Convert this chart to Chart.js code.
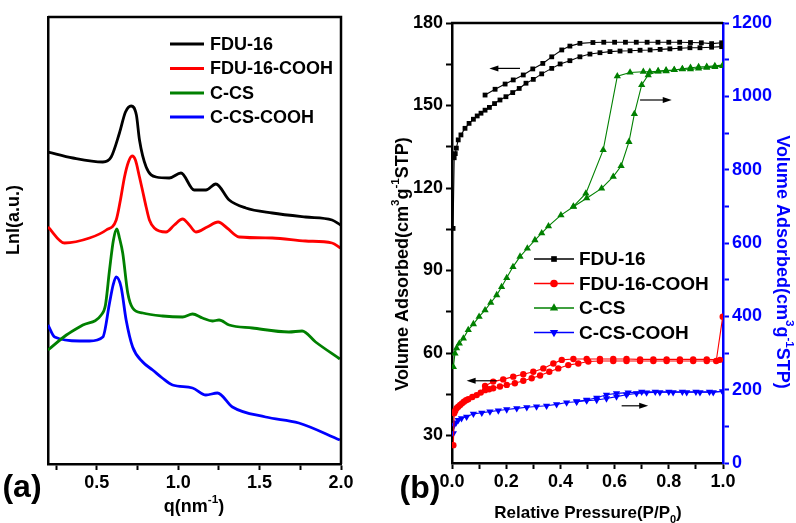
<!DOCTYPE html>
<html>
<head>
<meta charset="utf-8">
<script src="https://cdn.jsdelivr.net/npm/chart.js@4.4.1/dist/chart.umd.min.js"></script>
<style>
  body { margin: 0; background: #fff; }
  #panelA { position: absolute; left: 0; top: 0; }
  #panelB { position: absolute; left: 388px; top: 0; }
</style>
</head>
<body>
<canvas id="panelA" width="388" height="523"></canvas>
<canvas id="panelB" width="408" height="523"></canvas>
<script>
// (a) SAXS curves, q in nm^-1, intensity in arbitrary (offset) units
const qFDU16 = [0.20, 0.353, 0.537, 0.588, 0.639, 0.676, 0.711, 0.743, 0.762, 0.803, 0.864, 0.945, 1.017, 1.098, 1.17, 1.231, 1.313, 1.415, 1.578, 1.782, 1.945, 1.997];
const iFDU16 = [312, 306, 302, 307, 331, 352, 358, 349, 324, 297, 287, 286, 291, 274, 274, 280, 264, 256, 251, 247, 244, 239];

const qFDU16COOH = [0.20, 0.302, 0.455, 0.558, 0.619, 0.645, 0.67, 0.694, 0.717, 0.737, 0.762, 0.78, 0.803, 0.823, 0.853, 0.925, 0.976, 1.027, 1.068, 1.109, 1.178, 1.245, 1.30, 1.374, 1.578, 1.782, 1.945, 1.997];
const iFDU16COOH = [237, 221, 226, 234, 244, 264, 287, 302, 308, 304, 287, 274, 257, 244, 236, 232, 239, 245, 239, 232, 237, 242, 236, 227, 226, 223, 221, 216];

const qCCS = [0.20, 0.313, 0.414, 0.527, 0.553, 0.578, 0.602, 0.623, 0.639, 0.659, 0.69, 0.72, 0.782, 0.904, 1.027, 1.088, 1.149, 1.21, 1.251, 1.313, 1.455, 1.68, 1.761, 1.844, 1.993];
const iCCS = [114, 129, 139, 149, 159, 194, 224, 235, 226, 211, 171, 156, 151, 148, 147, 150, 146, 143, 144, 139, 136, 132, 133, 122, 105];

const qCCSCOOH = [0.20, 0.241, 0.394, 0.455, 0.537, 0.578, 0.60, 0.619, 0.649, 0.68, 0.72, 0.782, 0.843, 0.902, 0.965, 1.088, 1.17, 1.241, 1.333, 1.537, 1.741, 1.993];
const iCCSCOOH = [139, 127, 123, 123, 127, 161, 179, 187, 177, 144, 117, 102, 94, 86, 79, 76, 69, 71, 57, 47, 41, 24];

const qTicks = [0.25, 0.5, 0.75, 1.0, 1.25, 1.5, 1.75, 2.0];

// (b) N2 isotherms, P/P0 vs volume adsorbed
const pFDU16Ads = [0.004, 0.008, 0.012, 0.016, 0.023, 0.033, 0.048, 0.063, 0.079, 0.093, 0.107, 0.122, 0.138, 0.157, 0.177, 0.199, 0.224, 0.248, 0.273, 0.300, 0.331, 0.368, 0.399, 0.435, 0.472, 0.509, 0.546, 0.583, 0.620, 0.657, 0.694, 0.731, 0.768, 0.804, 0.841, 0.878, 0.915, 0.958, 0.995];
const vFDU16Ads = [105.3, 131, 132.5, 134.5, 137.5, 139.3, 141.7, 143.5, 145, 146.2, 147.2, 148.3, 149.3, 150.7, 152.0, 153.2, 154.7, 156.2, 158.1, 159.5, 161.5, 163.5, 165.1, 166.3, 167.7, 168.7, 169.2, 169.6, 169.8, 169.9, 170.1, 170.2, 170.4, 170.6, 170.8, 171.0, 171.0, 171.2, 171.4];
const pFDU16Des = [0.995, 0.958, 0.92, 0.88, 0.84, 0.80, 0.76, 0.72, 0.68, 0.64, 0.60, 0.56, 0.52, 0.472, 0.435, 0.405, 0.368, 0.335, 0.298, 0.263, 0.226, 0.196, 0.159, 0.122];
const vFDU16Des = [172.8, 172.5, 172.8, 172.9, 173, 173, 173, 173, 173, 173, 173, 173, 172.9, 172.6, 171.6, 170.2, 167.7, 165.3, 163.3, 161.1, 159.3, 157.8, 155.9, 153.8];

const pCOOHAds = [0.005, 0.008, 0.012, 0.017, 0.023, 0.03, 0.037, 0.044, 0.052, 0.06, 0.075, 0.091, 0.106, 0.122, 0.137, 0.152, 0.177, 0.202, 0.232, 0.263, 0.294, 0.325, 0.359, 0.392, 0.429, 0.466, 0.503, 0.546, 0.595, 0.644, 0.694, 0.743, 0.792, 0.841, 0.89, 0.94, 0.975, 0.999];
const vCOOHAds = [26.5, 38.1, 39, 39.9, 40.5, 41.1, 41.7, 42.3, 42.8, 43.2, 44, 44.7, 45.6, 46.5, 46.8, 47.2, 47.8, 48.4, 49, 49.9, 50.8, 51.8, 53.2, 54.4, 55.6, 56.2, 56.9, 57.1, 57.1, 57.1, 57.1, 57.1, 57.1, 57.1, 57.1, 57.1, 57.1, 73.2];
const pCOOHDes = [0.989, 0.94, 0.89, 0.841, 0.792, 0.743, 0.694, 0.644, 0.595, 0.546, 0.497, 0.448, 0.405, 0.374, 0.337, 0.300, 0.263, 0.226, 0.189, 0.152, 0.122];
const vCOOHDes = [57.5, 57.7, 57.7, 57.7, 57.7, 57.7, 57.7, 57.8, 57.8, 57.8, 57.8, 57.8, 57.5, 56.2, 54.4, 53.2, 52.3, 51.4, 50.4, 49.6, 48.0];

const pCCSAds = [0.005, 0.011, 0.017, 0.027, 0.042, 0.06, 0.079, 0.1, 0.122, 0.143, 0.165, 0.183, 0.202, 0.225, 0.251, 0.278, 0.306, 0.331, 0.356, 0.402, 0.448, 0.497, 0.552, 0.595, 0.624, 0.653, 0.673, 0.70, 0.724, 0.761, 0.79, 0.82, 0.85, 0.88, 0.91, 0.94, 0.97, 0.999];
const vCCSAds = [262, 299, 313, 326, 340, 363, 379, 399, 417, 437, 458, 480, 505, 535, 563, 585, 608, 627, 646, 676, 699, 722, 749, 781, 810, 876, 952, 1031, 1058, 1069, 1071, 1072, 1074, 1074, 1076, 1078, 1080, 1083];
const pCCSDes = [0.999, 0.97, 0.94, 0.91, 0.88, 0.85, 0.82, 0.79, 0.76, 0.73, 0.706, 0.657, 0.61, 0.558, 0.494, 0.448];
const vCCSDes = [1085, 1083, 1081, 1080, 1078, 1075, 1072, 1069, 1068, 1067, 1067, 1065, 1055, 854, 735, 700];

const pCCSCOOHAds = [0.005, 0.008, 0.015, 0.023, 0.035, 0.054, 0.079, 0.11, 0.14, 0.171, 0.202, 0.239, 0.276, 0.312, 0.349, 0.386, 0.423, 0.46, 0.497, 0.534, 0.57, 0.607, 0.644, 0.681, 0.718, 0.767, 0.816, 0.866, 0.915, 0.964, 0.999];
const vCCSCOOHAds = [81, 104, 110, 117, 122, 126, 134, 137, 140, 143, 146, 149, 152, 154, 156, 160, 165, 167, 170, 172, 176, 181, 186, 190, 192, 193, 193, 193, 193, 193, 195];
const pCCSCOOHDes = [0.999, 0.95, 0.9, 0.85, 0.8, 0.75, 0.7, 0.65, 0.607, 0.57, 0.534, 0.497, 0.46];
const vCCSCOOHDes = [195, 194, 194, 194, 194, 194, 194, 192, 190, 186, 178, 172, 168];

const pTicks = [0, 0.1, 0.2, 0.3, 0.4, 0.5, 0.6, 0.7, 0.8, 0.9, 1.0];
const leftTicks = [30, 45, 60, 75, 90, 105, 120, 135, 150, 165, 180];
const rightTicks = [0, 100, 200, 300, 400, 500, 600, 700, 800, 900, 1000, 1100, 1200];

const names = ['FDU-16', 'FDU-16-COOH', 'C-CS', 'C-CS-COOH'];
const colors = ['#000000', '#ff0000', '#008000', '#0000ff'];

const FONT = 'Arial, "Liberation Sans", Helvetica, sans-serif';

function pts(xs, ys) {
  return xs.map((x, i) => ({ x: x, y: ys[i] }));
}

// text with super/subscripts: parts = [[text, shift]], shift 1 = sup, -1 = sub
function richText(ctx, parts, x, y, size, color, rot) {
  ctx.save();
  ctx.translate(x, y);
  ctx.rotate(rot || 0);
  ctx.fillStyle = color;
  ctx.textBaseline = 'middle';
  ctx.textAlign = 'left';
  let w = 0;
  parts.forEach(p => {
    ctx.font = 'bold ' + (p[1] ? size * 0.65 : size) + 'px ' + FONT;
    w += ctx.measureText(p[0]).width;
  });
  let cx = -w / 2;
  parts.forEach(p => {
    const s = p[1] ? size * 0.65 : size;
    ctx.font = 'bold ' + s + 'px ' + FONT;
    ctx.fillText(p[0], cx, -p[1] * size * 0.38);
    cx += ctx.measureText(p[0]).width;
  });
  ctx.restore();
}

function plainText(ctx, text, x, y, size, color, align) {
  ctx.save();
  ctx.font = 'bold ' + size + 'px ' + FONT;
  ctx.fillStyle = color;
  ctx.textAlign = align || 'left';
  ctx.textBaseline = 'middle';
  ctx.fillText(text, x, y);
  ctx.restore();
}

function tickFont() {
  return { family: FONT, size: 18, weight: 'bold' };
}

// ---------- panel (a) ----------
const panelAPlugin = {
  id: 'panelA',
  afterDraw(chart) {
    const { ctx, chartArea: a } = chart;
    ctx.save();
    ctx.strokeStyle = '#000';
    ctx.lineWidth = 2.5;
    ctx.beginPath();
    ctx.moveTo(a.left, a.top);
    ctx.lineTo(a.right, a.top);
    ctx.lineTo(a.right, a.bottom);
    ctx.stroke();
    // legend
    const rows = [44, 68.5, 93, 117];
    names.forEach((n, i) => {
      ctx.strokeStyle = colors[i];
      ctx.lineWidth = 3;
      ctx.beginPath();
      ctx.moveTo(170, rows[i]);
      ctx.lineTo(204, rows[i]);
      ctx.stroke();
      plainText(ctx, n, 210, rows[i] + 1, 18, '#000');
    });
    ctx.restore();
    richText(ctx, [['Lnl(a.u.)', 0]], 14, 220, 18, '#000', -Math.PI / 2);
    richText(ctx, [['q(nm', 0], ['-1', 1], [')', 0]], 194, 507, 18, '#000', 0);
    plainText(ctx, '(a)', 22, 488, 32, '#000', 'center');
  }
};

new Chart(document.getElementById('panelA'), {
  type: 'line',
  data: {
    datasets: [
      { label: names[0], data: pts(qFDU16, iFDU16), borderColor: colors[0] },
      { label: names[1], data: pts(qFDU16COOH, iFDU16COOH), borderColor: colors[1] },
      { label: names[2], data: pts(qCCS, iCCS), borderColor: colors[2] },
      { label: names[3], data: pts(qCCSCOOH, iCCSCOOH), borderColor: colors[3] }
    ]
  },
  options: {
    responsive: false,
    animation: false,
    layout: { padding: { left: 0, right: 47, top: 17, bottom: 0 } },
    elements: {
      point: { radius: 0 },
      line: { borderWidth: 2.8, cubicInterpolationMode: 'monotone', fill: false }
    },
    plugins: { legend: { display: false }, tooltip: { enabled: false } },
    scales: {
      x: {
        type: 'linear', min: 0.2, max: 2.0,
        afterBuildTicks: s => { s.ticks = qTicks.map(v => ({ value: v })); },
        afterFit: s => { s.height = 59; },
        ticks: {
          autoSkip: false, maxRotation: 0, padding: 2, color: '#000', font: tickFont(),
          callback: v => (Math.abs(v * 2 - Math.round(v * 2)) < 1e-6 ? v.toFixed(1) : '')
        },
        grid: { drawOnChartArea: false, color: '#000', tickLength: 6, tickWidth: 2 },
        border: { color: '#000', width: 2.5 }
      },
      y: {
        min: 0, max: 447,
        afterFit: s => { s.width = 48; },
        ticks: { display: false },
        grid: { display: false },
        border: { color: '#000', width: 2.5 }
      }
    }
  },
  plugins: [panelAPlugin]
});

// ---------- panel (b) ----------
const arrows = [
  { axis: 'y', from: 0.251, to: 0.138, y: 163.5 },
  { axis: 'y1', from: 0.694, to: 0.811, y: 990 },
  { axis: 'y', from: 0.165, to: 0.054, y: 49.9 },
  { axis: 'y1', from: 0.626, to: 0.724, y: 156 }
];
const markers = ['rect', 'circle', 'triangle', 'triangle'];
const markerRot = [0, 0, 0, 180];
const markerSize = [3.4, 3.2, 4.2, 4.2];

function iso(i, xs, ys, axis) {
  return {
    label: names[i], data: pts(xs, ys), yAxisID: axis,
    borderColor: colors[i], backgroundColor: colors[i],
    pointBackgroundColor: colors[i], pointBorderColor: colors[i], pointBorderWidth: 0,
    pointStyle: markers[i], pointRotation: markerRot[i], pointRadius: markerSize[i],
    borderWidth: 1.1, tension: 0, fill: false
  };
}

const panelBPlugin = {
  id: 'panelB',
  afterDraw(chart) {
    const { ctx, chartArea: a, scales } = chart;
    ctx.save();
    ctx.strokeStyle = '#000';
    ctx.lineWidth = 2.5;
    ctx.beginPath();
    ctx.moveTo(a.left - 1, a.top);
    ctx.lineTo(a.right, a.top);
    ctx.stroke();
    // arrows
    ctx.lineWidth = 1.2;
    arrows.forEach(ar => {
      const x0 = scales.x.getPixelForValue(ar.from);
      const x1 = scales.x.getPixelForValue(ar.to);
      const y = scales[ar.axis].getPixelForValue(ar.y);
      const d = Math.sign(x1 - x0);
      ctx.strokeStyle = '#000';
      ctx.fillStyle = '#000';
      ctx.beginPath();
      ctx.moveTo(x0, y);
      ctx.lineTo(x1 - d * 6, y);
      ctx.stroke();
      ctx.beginPath();
      ctx.moveTo(x1, y);
      ctx.lineTo(x1 - d * 9, y - 3);
      ctx.lineTo(x1 - d * 9, y + 3);
      ctx.closePath();
      ctx.fill();
    });
    // legend
    const rows = [259, 283.5, 308, 332.5];
    names.forEach((n, i) => {
      ctx.strokeStyle = colors[i];
      ctx.lineWidth = 1.5;
      ctx.beginPath();
      ctx.moveTo(146, rows[i]);
      ctx.lineTo(186, rows[i]);
      ctx.stroke();
      ctx.fillStyle = colors[i];
      Chart.helpers.drawPoint(ctx, {
        pointStyle: markers[i], rotation: markerRot[i], radius: markerSize[i] + 0.6, borderWidth: 0
      }, 166, rows[i]);
      plainText(ctx, n, 191, rows[i] + 1, 19, '#000');
    });
    ctx.restore();
    richText(ctx, [['Volume Adsorbed(cm', 0], ['3', 1], ['g', 0], ['-1', 1], ['STP)', 0]], 15, 264, 18, '#000', -Math.PI / 2);
    richText(ctx, [['Volume Adsorbed(cm', 0], ['3', 1], ['g', 0], ['-1', 1], ['STP)', 0]], 394, 262, 18, '#0000ff', Math.PI / 2);
    richText(ctx, [['Relative Pressure(P/P', 0], ['0', -1], [')', 0]], 200, 513, 17, '#000', 0);
    plainText(ctx, '(b)', 32, 489, 32, '#000', 'center');
  }
};

new Chart(document.getElementById('panelB'), {
  type: 'line',
  data: {
    datasets: [
      iso(0, pFDU16Ads, vFDU16Ads, 'y'),
      iso(0, pFDU16Des, vFDU16Des, 'y'),
      iso(1, pCOOHAds, vCOOHAds, 'y'),
      iso(1, pCOOHDes, vCOOHDes, 'y'),
      iso(2, pCCSAds, vCCSAds, 'y1'),
      iso(2, pCCSDes, vCCSDes, 'y1'),
      iso(3, pCCSCOOHAds, vCCSCOOHAds, 'y1'),
      iso(3, pCCSCOOHDes, vCCSCOOHDes, 'y1')
    ]
  },
  options: {
    responsive: false,
    animation: false,
    layout: { padding: { left: 0, right: 0, top: 23, bottom: 0 } },
    plugins: { legend: { display: false }, tooltip: { enabled: false } },
    scales: {
      x: {
        type: 'linear', min: 0, max: 1,
        afterBuildTicks: s => { s.ticks = pTicks.map(v => ({ value: v })); },
        afterFit: s => { s.height = 60; },
        ticks: {
          autoSkip: false, maxRotation: 0, padding: 2, color: '#000', font: tickFont(),
          callback: (v, i) => (i % 2 === 0 ? v.toFixed(1) : '')
        },
        grid: { drawOnChartArea: false, color: '#000', tickLength: 6, tickWidth: 2 },
        border: { color: '#000', width: 2.5 }
      },
      y: {
        position: 'left', min: 20, max: 180,
        afterBuildTicks: s => { s.ticks = leftTicks.map(v => ({ value: v })); },
        afterFit: s => { s.width = 64; },
        ticks: {
          autoSkip: false, padding: 3, color: '#000', font: tickFont(),
          callback: v => (v % 30 === 0 ? String(v) : '')
        },
        grid: { drawOnChartArea: false, color: '#000', tickLength: 6, tickWidth: 2 },
        border: { color: '#000', width: 2.5 }
      },
      y1: {
        position: 'right', min: 0, max: 1200,
        afterBuildTicks: s => { s.ticks = rightTicks.map(v => ({ value: v })); },
        afterFit: s => { s.width = 73; },
        ticks: {
          autoSkip: false, padding: 3, color: '#0000ff', font: tickFont(),
          callback: v => (v % 200 === 0 ? String(v) : '')
        },
        grid: { drawOnChartArea: false, color: '#0000ff', tickLength: 6, tickWidth: 2 },
        border: { color: '#0000ff', width: 2.5 }
      }
    }
  },
  plugins: [panelBPlugin]
});
</script>
</body>
</html>
